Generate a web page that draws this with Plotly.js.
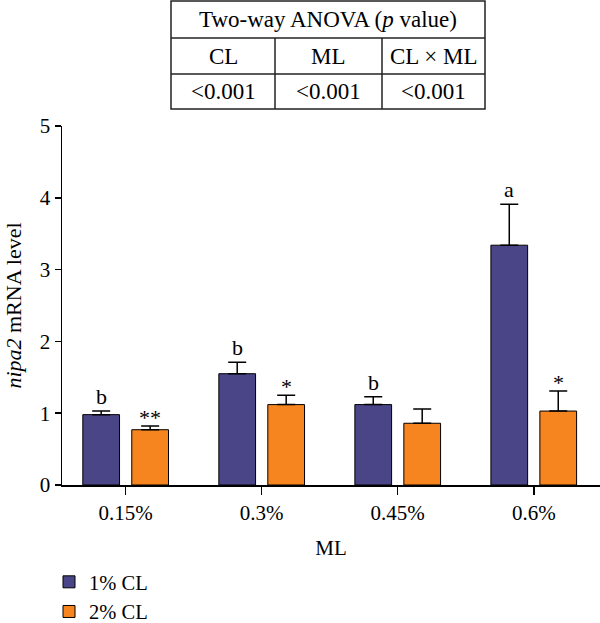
<!DOCTYPE html>
<html>
<head>
<meta charset="utf-8">
<script src="https://cdn.plot.ly/plotly-3.0.1.min.js"></script>
<style>html,body{margin:0;padding:0;background:#fff;} #chart{width:600px;height:623px;}</style>
</head>
<body>
<div id="chart"></div>
<script>
// ---- data ----
const categories = ['0.15%', '0.3%', '0.45%', '0.6%'];
const seriesNames = ['1% CL', '2% CL'];
const cl1Values = [0.98, 1.55, 1.12, 3.34];
const cl1Errors = [0.05, 0.16, 0.11, 0.57];
const cl2Values = [0.77, 1.12, 0.86, 1.03];
const cl2Errors = [0.05, 0.13, 0.20, 0.28];
const cl1Letters = ['b', 'b', 'b', 'a'];
const cl2Marks = ['**', '*', '', '*'];
const tableTitle = 'Two-way ANOVA (<i>p</i> value)';
const tableHeaders = ['CL', 'ML', 'CL × ML'];
const tableValues = ['<0.001', '<0.001', '<0.001'];

// ---- style ----
const FONT = 'Liberation Serif, Times New Roman, serif';
const BLUE = '#4a4587';
const ORANGE = '#f6841f';
const W = 600, H = 623;
const M = {l: 62, r: 0, t: 126, b: 138, autoexpand: false};
const plotW = W - M.l - M.r, plotH = H - M.t - M.b;
const px = x => (x - M.l) / plotW;
const py = y => (H - M.b - y) / plotH;

const zeros = cl1Values.map(() => 0);
const traces = [
  {type: 'bar', name: seriesNames[0], x: categories, y: cl1Values,
   marker: {color: BLUE, line: {color: '#000', width: 1}},
   error_y: {type: 'data', symmetric: false, array: cl1Errors, arrayminus: zeros, width: 9, thickness: 1.5, color: '#000'}},
  {type: 'bar', name: seriesNames[1], x: categories, y: cl2Values,
   marker: {color: ORANGE, line: {color: '#000', width: 1}},
   error_y: {type: 'data', symmetric: false, array: cl2Errors, arrayminus: zeros, width: 9, thickness: 1.5, color: '#000'}}
];

const OFF = 0.18;
const annotations = [];
categories.forEach((c, i) => {
  if (cl1Letters[i]) annotations.push({x: i - OFF, y: cl1Values[i] + cl1Errors[i], xref: 'x', yref: 'y',
    text: cl1Letters[i], showarrow: false, yanchor: 'bottom', yshift: 0, font: {family: FONT, size: 22, color: '#000'}});
  if (cl2Marks[i]) annotations.push({x: i + OFF, y: cl2Values[i] + cl2Errors[i], xref: 'x', yref: 'y',
    text: cl2Marks[i], showarrow: false, yanchor: 'bottom', yshift: -6, font: {family: FONT, size: 22, color: '#000'}});
});

// table
const tL = 171, tR = 485, tTop = 1, r1 = 38, r2 = 74, tBot = 109, c1 = 275, c2 = 382;
const lineStyle = {color: '#222', width: 1.5};
const shapes = [
  {type: 'rect', xref: 'paper', yref: 'paper', x0: px(tL), x1: px(tR), y0: py(tTop), y1: py(tBot), line: lineStyle},
  {type: 'line', xref: 'paper', yref: 'paper', x0: px(tL), x1: px(tR), y0: py(r1), y1: py(r1), line: lineStyle},
  {type: 'line', xref: 'paper', yref: 'paper', x0: px(tL), x1: px(tR), y0: py(r2), y1: py(r2), line: lineStyle},
  {type: 'line', xref: 'paper', yref: 'paper', x0: px(c1), x1: px(c1), y0: py(r1), y1: py(tBot), line: lineStyle},
  {type: 'line', xref: 'paper', yref: 'paper', x0: px(c2), x1: px(c2), y0: py(r1), y1: py(tBot), line: lineStyle}
];
const tf = {family: FONT, size: 23, color: '#000'};
annotations.push({xref: 'paper', yref: 'paper', x: px((tL + tR) / 2), y: py((tTop + r1) / 2), text: tableTitle,
  showarrow: false, xanchor: 'center', yanchor: 'middle', font: tf});
const colCenters = [(tL + c1) / 2, (c1 + c2) / 2, (c2 + tR) / 2];
tableHeaders.forEach((t, i) => annotations.push({xref: 'paper', yref: 'paper', x: px(colCenters[i]), y: py((r1 + r2) / 2),
  text: t, showarrow: false, xanchor: 'center', yanchor: 'middle', font: tf}));
tableValues.forEach((t, i) => annotations.push({xref: 'paper', yref: 'paper', x: px(colCenters[i]), y: py((r2 + tBot) / 2),
  text: t.replace('<', '&lt;'), showarrow: false, xanchor: 'center', yanchor: 'middle', font: tf}));

const layout = {
  width: W, height: H,
  margin: M,
  paper_bgcolor: '#fff', plot_bgcolor: '#fff',
  font: {family: FONT, size: 20, color: '#000'},
  barmode: 'group', bargap: 0.28, bargroupgap: 0.25,
  showlegend: true,
  legend: {x: px(49), y: py(562), xanchor: 'left', yanchor: 'top', orientation: 'v',
    font: {family: FONT, size: 20.5, color: '#000'}, bgcolor: 'rgba(0,0,0,0)', tracegroupgap: 0},
  xaxis: {
    type: 'category', range: [-0.468, 3.487], showline: true, linecolor: '#000', linewidth: 1.5,
    ticks: 'outside', ticklen: 8, tickwidth: 1.5, tickcolor: '#000', showgrid: false, zeroline: false,
    tickfont: {family: FONT, size: 21, color: '#000'},
    title: {text: 'ML', font: {family: FONT, size: 21, color: '#000'}, standoff: 16}
  },
  yaxis: {
    range: [0, 5], dtick: 1, showline: true, linecolor: '#000', linewidth: 1.5,
    ticks: 'outside', ticklen: 6, tickwidth: 1.5, tickcolor: '#000', showgrid: false, zeroline: false,
    tickfont: {family: FONT, size: 21, color: '#000'},
    title: {text: '<i>nipa2</i> mRNA level', font: {family: FONT, size: 22, color: '#000'}, standoff: 12}
  },
  shapes: shapes,
  annotations: annotations
};

Plotly.newPlot('chart', traces, layout, {displayModeBar: false, staticPlot: true});
</script>
</body>
</html>
